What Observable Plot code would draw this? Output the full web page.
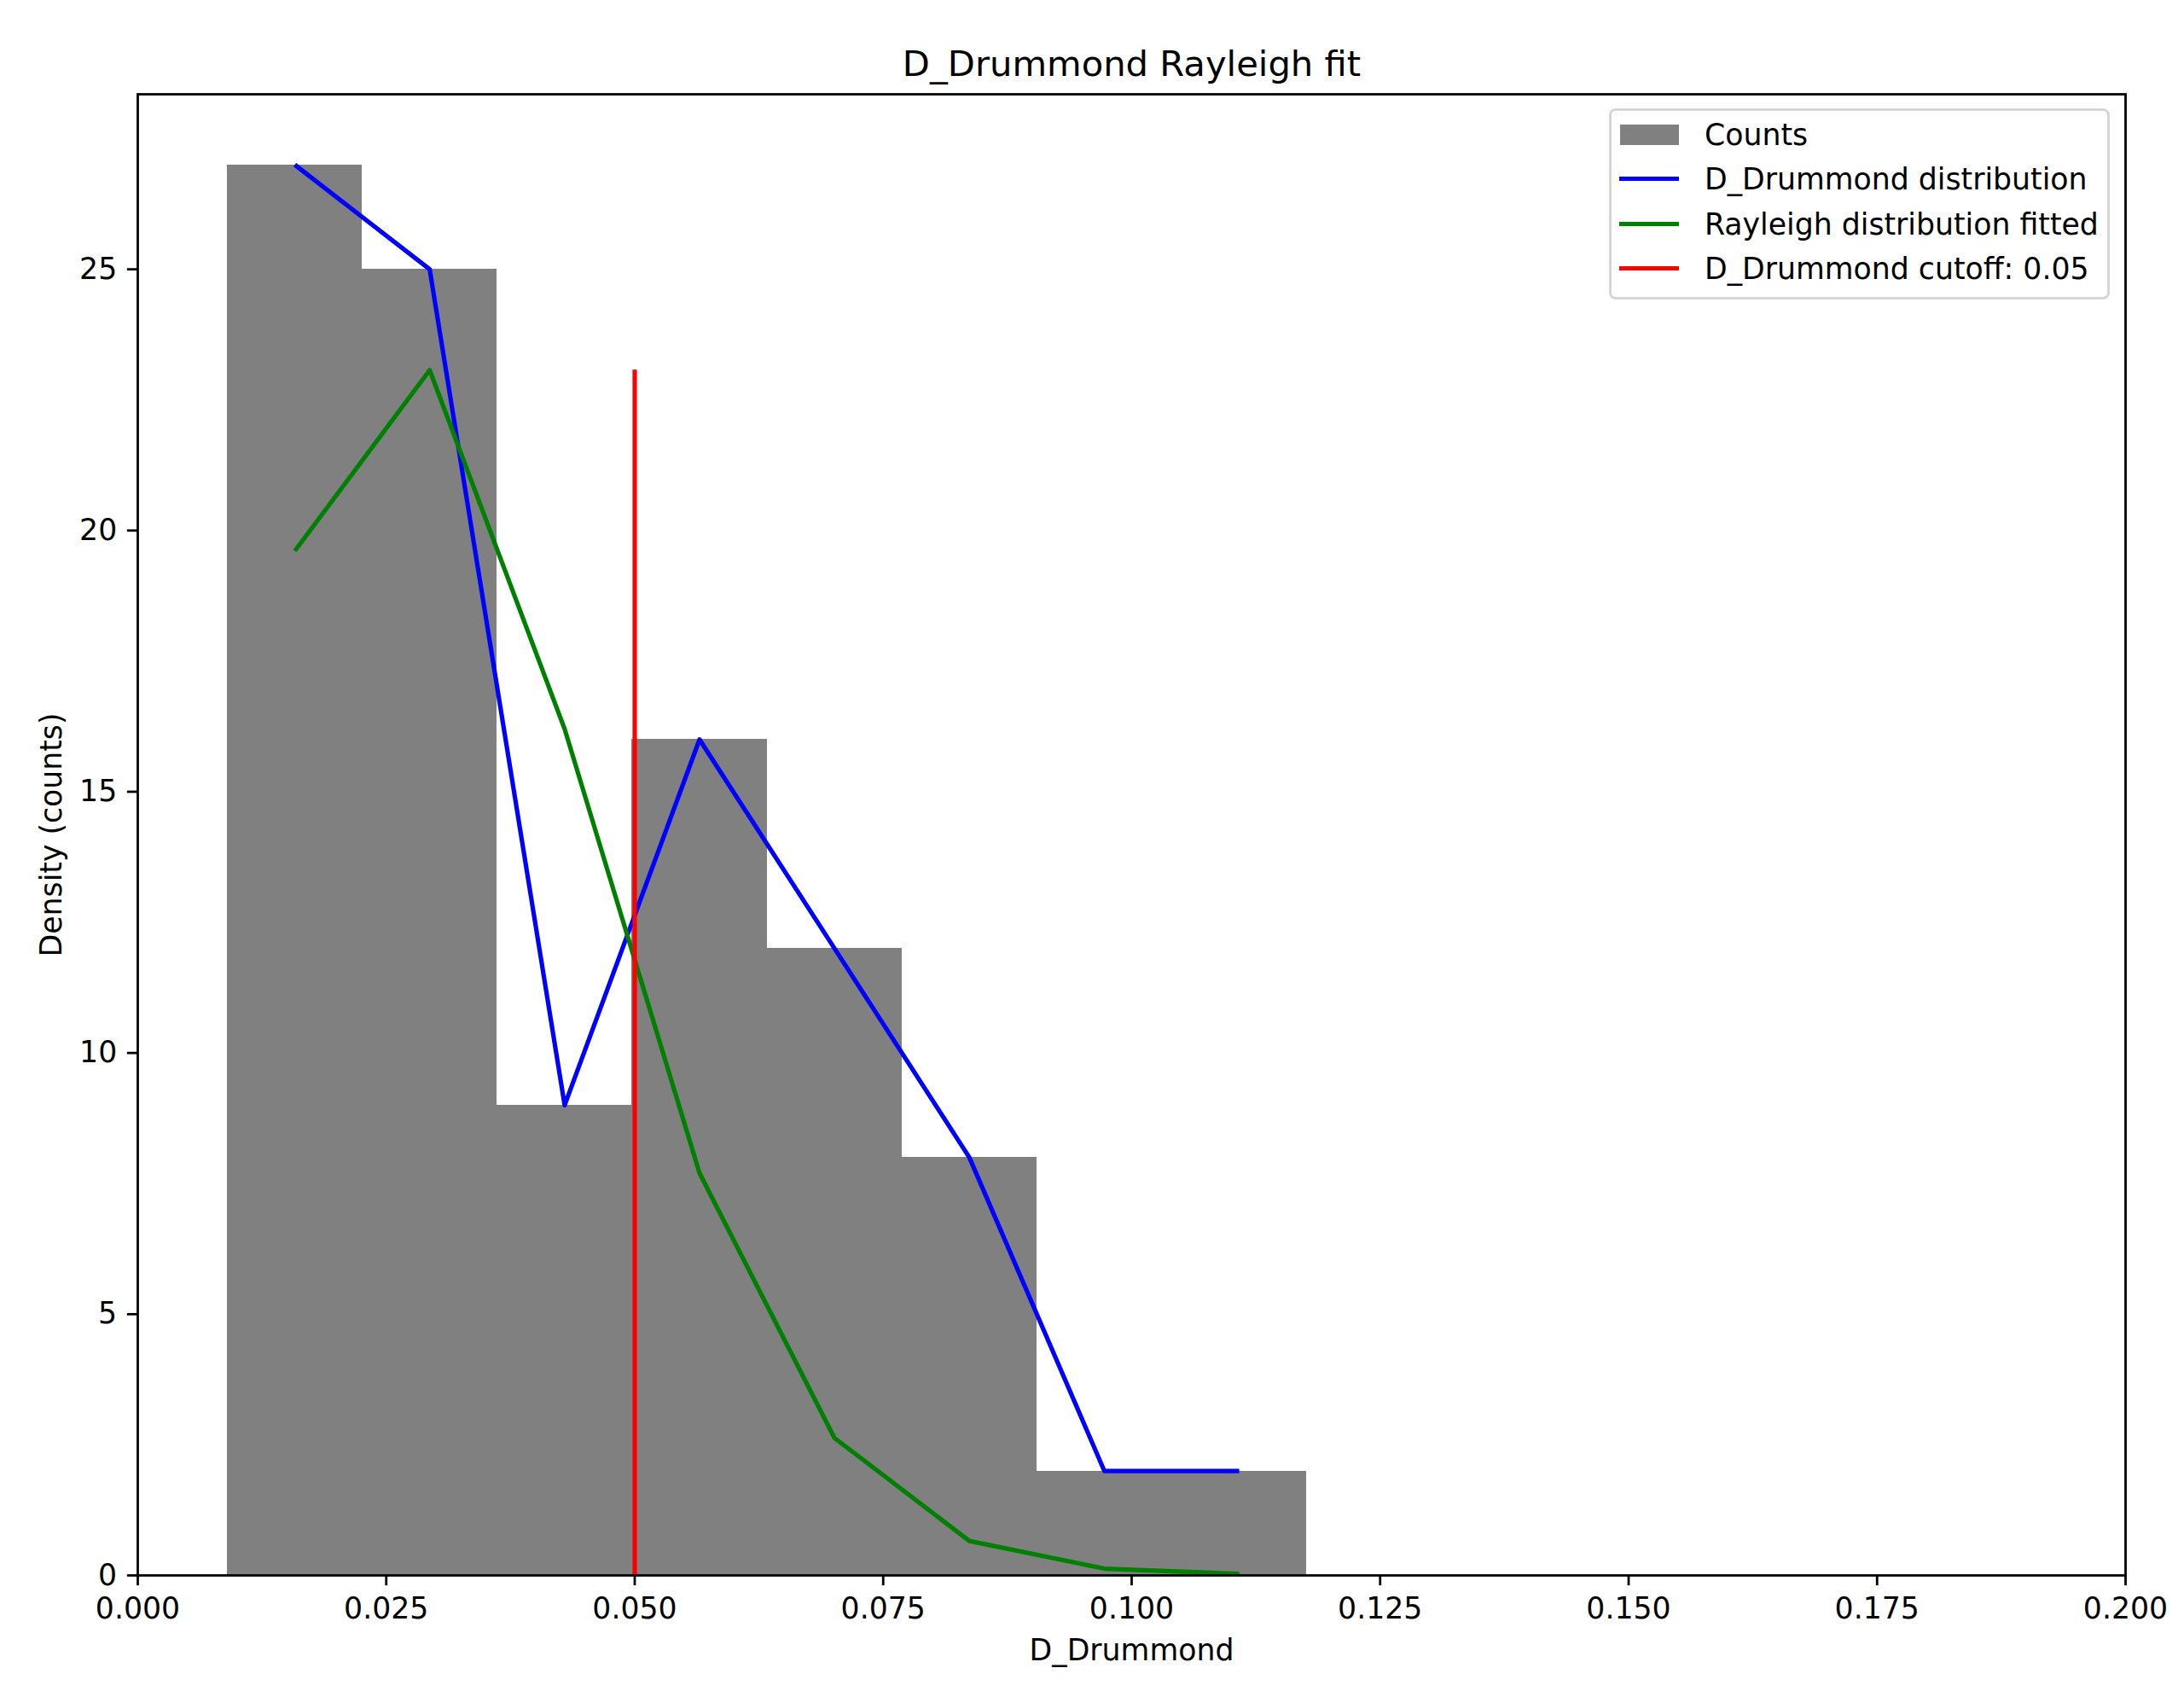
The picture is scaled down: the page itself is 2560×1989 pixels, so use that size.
<!DOCTYPE html>
<html>
<head>
<meta charset="utf-8">
<script src="https://cdn.jsdelivr.net/npm/d3@7"></script>
<script src="https://cdn.jsdelivr.net/npm/@observablehq/plot@0.6"></script>
<style>
  html, body { margin: 0; padding: 0; background: #ffffff; }
  #wrap { position: relative; width: 2560px; height: 1989px; font-family: "DejaVu Sans", sans-serif; }
  #legend { position: absolute; left: 1886px; top: 127px; width: 587px; height: 224px; box-sizing: border-box;
            border: 3.5px solid rgba(204,204,204,0.8); border-radius: 8px; background: rgba(255,255,255,0.8); }
  .row { position: absolute; left: 0; height: 40px; width: 100%; }
  .lbl { position: absolute; left: 109px; top: 0; line-height: 40px; font-size: 34.7px; color: #000; white-space: nowrap; }
  .hline { position: absolute; left: 9px; width: 70px; height: 5.2px; top: 17.4px; }
  .hpatch { position: absolute; left: 10px; width: 69.4px; height: 24.3px; top: 8px; }
</style>
</head>
<body>
<div id="wrap"></div>
<script>
// ---- data ----
const title = "D_Drummond Rayleigh fit";
const xLabel = "D_Drummond";
const yLabel = "Density (counts)";
const binEdges = [0.00901, 0.02259, 0.03616, 0.04974, 0.06331, 0.07689, 0.09046, 0.10404, 0.11761];
const binCenters = [0.0158, 0.02937, 0.04295, 0.05652, 0.0701, 0.08367, 0.09725, 0.11082];
const counts = [27, 25, 9, 16, 12, 8, 2, 2];
const rayleigh = [19.61, 23.07, 16.2, 7.70, 2.63, 0.66, 0.13, 0.03];
const cutoff = 0.05;
const xTicks = [0, 0.025, 0.05, 0.075, 0.1, 0.125, 0.15, 0.175, 0.2];
const yTicks = [0, 5, 10, 15, 20, 25];
const legendLabels = ["Counts", "D_Drummond distribution", "Rayleigh distribution fitted", "D_Drummond cutoff: 0.05"];
const legendColors = ["#808080", "#0000ff", "#008000", "#ff0000"];
const legendKinds = ["patch", "line", "line", "line"];

// ---- derived tables ----
const bars = counts.map((c, i) => ({x1: binEdges[i], x2: binEdges[i + 1], c}));
const blue = binCenters.map((x, i) => ({x, y: counts[i]}));
const green = binCenters.map((x, i) => ({x, y: rayleigh[i]}));
const cutoffTop = d3.max(rayleigh);
const yMax = d3.max(counts) * 1.05;

const fs = 34.7;
const lw = 5.2;
const chart = Plot.plot({
  width: 2560,
  height: 1989,
  marginLeft: 161,
  marginRight: 69,
  marginTop: 110,
  marginBottom: 143,
  style: {fontFamily: "DejaVu Sans", background: "white", color: "black"},
  x: {domain: [0, 0.2]},
  y: {domain: [0, yMax]},
  marks: [
    Plot.rect(bars, {x1: "x1", x2: "x2", y1: 0, y2: "c", fill: "#808080", shapeRendering: "crispEdges"}),
    Plot.line(blue, {x: "x", y: "y", stroke: "#0000ff", strokeWidth: lw, strokeLinecap: "butt"}),
    Plot.line(green, {x: "x", y: "y", stroke: "#008000", strokeWidth: lw, strokeLinecap: "butt"}),
    Plot.ruleX([cutoff], {x: d => d, y1: 0, y2: cutoffTop, stroke: "#ff0000", strokeWidth: lw}),
    Plot.axisX({ticks: xTicks, tickFormat: d3.format(".3f"), tickSize: 12.15, tickPadding: 14, fontSize: fs, strokeWidth: 2.78, label: null}),
    Plot.axisY({ticks: yTicks, tickFormat: d3.format("d"), tickSize: 12.15, tickPadding: 12.15, fontSize: fs, strokeWidth: 2.78, label: null}),
    Plot.frame({stroke: "black", strokeWidth: 2.78}),
    Plot.text([title], {text: d => d, frameAnchor: "top", textAnchor: "middle", lineAnchor: "middle", dy: -35, fontSize: 41.7, fill: "black"}),
    Plot.text([xLabel], {text: d => d, frameAnchor: "bottom", textAnchor: "middle", lineAnchor: "middle", dy: 88, fontSize: fs, fill: "black"}),
    Plot.text([yLabel], {text: d => d, frameAnchor: "left", textAnchor: "middle", lineAnchor: "middle", rotate: -90, dx: -101, fontSize: fs, fill: "black"})
  ]
});
const wrap = document.getElementById("wrap");
wrap.appendChild(chart);

// ---- legend overlay ----
const legend = document.createElement("div");
legend.id = "legend";
const rowCenters = [31, 83, 136, 188];
legendLabels.forEach((lab, i) => {
  const row = document.createElement("div");
  row.className = "row";
  row.style.top = (rowCenters[i] - 20 - 3.5) + "px";
  const h = document.createElement("div");
  h.className = legendKinds[i] === "patch" ? "hpatch" : "hline";
  h.style.background = legendColors[i];
  row.appendChild(h);
  const t = document.createElement("div");
  t.className = "lbl";
  t.textContent = lab;
  row.appendChild(t);
  legend.appendChild(row);
});
wrap.appendChild(legend);
</script>
</body>
</html>
